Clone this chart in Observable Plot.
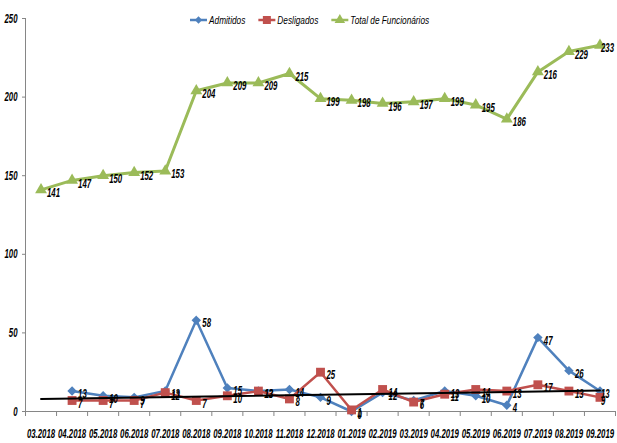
<!DOCTYPE html>
<html><head><meta charset="utf-8">
<script src="https://cdn.jsdelivr.net/npm/d3@7"></script>
<script src="https://cdn.jsdelivr.net/npm/@observablehq/plot@0.6"></script>
<style>
body{margin:0;background:#fff;}
#wrap{position:relative;width:617px;height:443px;}
#legend{position:absolute;top:10px;left:0;}
</style></head><body>
<div id="wrap"><div id="chart"></div><div id="legend"></div></div>
<script>
const months = ["03.2018","04.2018","05.2018","06.2018","07.2018","08.2018","09.2018","10.2018","11.2018","12.2018","01.2019","02.2019","03.2019","04.2019","05.2019","06.2019","07.2019","08.2019","09.2019"];
const admitidos = [null,13,10,9,13,58,15,13,14,9,0,12,7,13,10,4,47,26,13];
const desligados = [null,7,7,7,12,7,10,13,8,25,1,14,6,11,14,13,17,13,9];
const total = [141,147,150,152,153,204,209,209,215,199,198,196,197,199,195,186,216,229,233];
const yTicks = [0,50,100,150,200,250];
const seriesNames = ["Admitidos","Desligados","Total de Funcionários"];
const colors = ["#4F81BD","#C0504D","#9BBB59"];
const FONT = '"Liberation Sans",Arial,sans-serif';

const idx = months.map((m,i)=>i);
const last = months.length - 1;
const toRows = arr => idx.filter(i=>arr[i]!=null).map(i=>({i, v:arr[i]}));
const rowsA = toRows(admitidos), rowsD = toRows(desligados), rowsT = toRows(total);

// linear trend of Desligados, extended over all months
const mx = d3.mean(rowsD, d=>d.i), my = d3.mean(rowsD, d=>d.v);
const slope = d3.sum(rowsD, d=>(d.i-mx)*(d.v-my)) / d3.sum(rowsD, d=>(d.i-mx)**2);
const trend = [0, last].map(i=>({i, v: my + slope*(i-mx)}));
const bounds = idx.map(i=>i-0.5).concat([months.length-0.5]);

const labelOpts = {x:"i", y:"v", text:d=>String(d.v), textAnchor:"start", dy:3, fill:"#000", fontSize:13, fontWeight:"bold", fontStyle:"italic"};
const labels = rows => [
  Plot.text(rows.filter(d=>d.i!==last), {...labelOpts, dx:6}),
  Plot.text(rows.filter(d=>d.i===last), {...labelOpts, dx:1})
];

const chart = Plot.plot({
  width:617, height:443,
  marginLeft:25, marginRight:2, marginTop:18, marginBottom:32,
  style:{fontFamily:FONT, background:"#fff", color:"#000"},
  x:{domain:[-0.5, months.length-0.5], axis:null},
  y:{domain:[0,250], axis:null},
  marks:[
    Plot.axisY(yTicks, {tickSize:3, stroke:"#868686", fill:"#000", fontSize:13, fontWeight:"bold", fontStyle:"italic", tickPadding:5, label:null}),
    Plot.axisX(bounds, {tickSize:5, stroke:"#868686", tickFormat:()=>"", label:null}),
    Plot.axisX(idx, {tickSize:0, tickPadding:17, tickFormat:i=>months[i], fill:"#000", fontSize:13, fontWeight:"bold", fontStyle:"italic", label:null}),
    Plot.ruleX([-0.5], {stroke:"#868686"}),
    Plot.ruleY([0], {stroke:"#868686"}),
    Plot.line(rowsT, {x:"i", y:"v", stroke:colors[2], strokeWidth:3}),
    Plot.dot(rowsT, {x:"i", y:"v", symbol:"triangle", fill:colors[2], r:4.4}),
    Plot.line(rowsA, {x:"i", y:"v", stroke:colors[0], strokeWidth:2.5}),
    Plot.dot(rowsA, {x:"i", y:"v", symbol:"diamond2", fill:colors[0], stroke:colors[0], r:3.3}),
    Plot.line(rowsD, {x:"i", y:"v", stroke:colors[1], strokeWidth:2.5}),
    Plot.dot(rowsD, {x:"i", y:"v", symbol:"square", fill:colors[1], r:5}),
    Plot.line(trend, {x:"i", y:"v", stroke:"#000", strokeWidth:2}),
    ...labels(rowsT),
    ...labels(rowsA),
    ...labels(rowsD)
  ]
});
document.getElementById("chart").appendChild(chart);

// narrow the texts (the reference uses a condensed face)
function squeeze(root, ratio){
  d3.select(root).selectAll("text").each(function(){
    const w = this.getComputedTextLength();
    if (w > 0) { this.setAttribute("textLength", (w*ratio).toFixed(2)); this.setAttribute("lengthAdjust","spacingAndGlyphs"); }
  });
}
squeeze(chart, 0.6);

// legend
const syms = [d3.symbolDiamond2, d3.symbolSquare, d3.symbolTriangle];
const sizes = [34, 64, 48];
const lg = d3.create("svg").attr("width",617).attr("height",20).style("font-family",FONT);
document.getElementById("legend").appendChild(lg.node());
let x0 = 190;
seriesNames.forEach((name,k)=>{
  const g = lg.append("g").attr("transform",`translate(${x0},10)`);
  g.append("line").attr("x1",0).attr("x2",17).attr("stroke",colors[k]).attr("stroke-width",2.5);
  g.append("path").attr("d", d3.symbol(syms[k], sizes[k])()).attr("transform","translate(8.5,0)").attr("fill",colors[k]);
  const t = g.append("text").attr("x",19).attr("dy","0.35em").attr("font-size",11.5).attr("font-style","italic").text(name);
  const w = t.node().getComputedTextLength()*0.72;
  t.attr("textLength", w.toFixed(2)).attr("lengthAdjust","spacingAndGlyphs");
  x0 += 19 + w + 13;
});
</script>
</body></html>
